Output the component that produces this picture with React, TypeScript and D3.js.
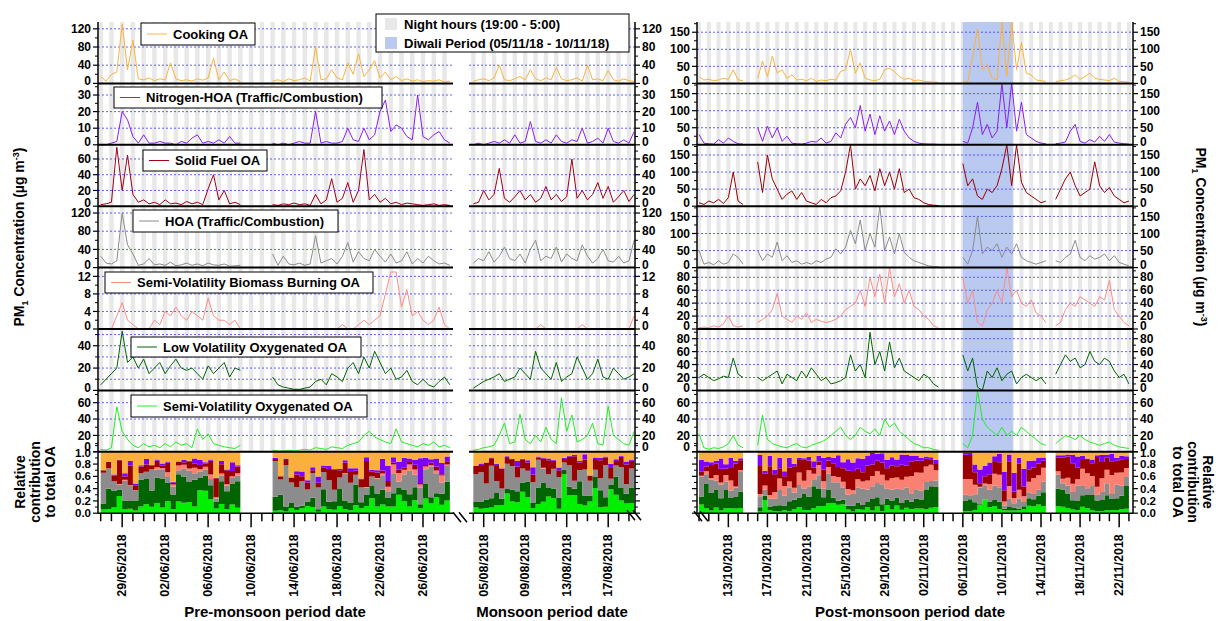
import * as d3 from 'd3';

type V = number | null;
const N = null;

// ---- data: 12-hourly values, starting 00:00 of first day ----
const PRE_START = new Date(2018, 4, 27, 0);
const MON_START = new Date(2018, 7, 4, 0);
const POST_START = new Date(2018, 9, 10, 0);
const G5 = [N, N, N, N, N];
const G4 = [N, N, N, N];

const coaPre: V[] = [15,5,20,25,130,30,95,10,8,12, 6,10,8,45,10,6,8,5,10,7, 12,55,8,25,6,10,4, ...G5, 5,8,4,10,6,8,12,5, 80,8,10,30,12,8,45,20,65,15, 30,50,12,25,8,15,6,10,5,8, 4,6,5,8,3,5];
const coaMon: V[] = [5,8,10,6,12,40,8,6,10,15,8,30,10,6,12,8,35,10,6,8,12,5,40,8,10,6,28,8,5,10,6,4];
const coaPost: V[] = [20,10,12,8,10,15,12,40,10,8, N,N, 15,65,20,80,30,40,15,25,10,12, 8,15,6,10,8,12,10,35,40,100, 30,60,15,10,8,12,40,45,35,20, 12,15,8,10,6,5,4,3, ...G4, 5,3,80,160,40,55,15,10,200,20, 200,40,120,30,25,10,8,6, N, 5,8,10,15,25,12,20,30,15,12,10,8,15,6,5,4];

const nhoaPre: V[] = [0,0,1,2,20,15,5,1,6,1, 1,2,1,1,0,2,1,4,6,1, 2,1,3,1,5,1,1, ...G5, 1,0,1,0,1,2,1,1, 20,1,2,1,1,2,10,3,2,10, 3,6,20,27,8,12,10,5,3,30, 5,3,6,8,3,1];
const nhoaMon: V[] = [0,1,0,1,2,1,3,1,6,1,2,14,2,1,3,1,6,2,1,3,2,10,1,2,4,1,10,2,1,3,1,8];
const nhoaPost: V[] = [30,5,3,2,15,5,20,10,3,2, N,N, 50,10,55,20,50,10,25,5,3,2, 5,10,8,20,5,10,35,20,60,80, 50,115,40,90,30,85,40,70,30,75, 40,20,10,5,3,2,2,1, ...G4, 10,5,50,125,30,60,20,40,180,50, 180,40,125,30,20,10,5,3, N, 3,5,8,40,60,10,5,15,8,25,10,30,8,5,3,2];

const sfoaPre: V[] = [2,3,5,75,20,65,15,5,8,3, 5,2,8,3,4,2,6,3,5,2, 22,40,8,20,3,5,2, ...G5, 2,1,3,2,4,2,3,1, 15,3,8,35,5,10,30,5,20,72, 8,15,5,10,3,5,2,4,3,2, 1,2,3,1,2,1];
const sfoaMon: V[] = [3,5,20,8,15,48,10,5,12,20,8,15,5,10,25,8,15,6,12,60,10,20,8,15,30,10,25,5,12,20,6,15];
const sfoaPost: V[] = [10,5,15,10,20,8,25,100,15,5, N,N, 130,40,150,80,50,20,35,45,20,40, 15,10,5,20,10,25,30,45,100,180, 50,80,60,90,45,110,60,100,50,110, 40,50,25,20,10,5,3,2, ...G4, 125,60,80,30,20,50,40,60,110,180, 60,180,70,40,30,20,10,15, N, 20,50,80,100,60,30,40,50,130,60,40,55,30,20,10,15];

const hoaPre: V[] = [25,10,8,15,120,50,30,5,8,20, 6,8,5,12,4,6,10,5,8,4, 10,6,5,8,3,4,5, ...G5, 30,5,25,8,6,10,5,8, 70,10,15,20,8,25,55,12,35,20, 15,40,25,12,30,10,15,35,8,20, 10,25,15,8,10,5];
const hoaMon: V[] = [10,20,15,35,12,25,45,20,15,30,10,40,60,15,25,20,45,12,30,20,15,50,25,10,20,40,15,12,25,10,15,60];
const hoaPost: V[] = [50,10,15,8,20,10,15,40,30,10, N,N, 50,20,40,30,75,20,35,15,20,10, 15,10,20,15,25,30,55,40,60,110, 70,140,50,100,60,180,50,90,40,100, 45,30,20,15,10,5,3,2, ...G4, 30,10,50,150,40,60,50,70,30,60, 40,70,30,20,15,10,15,20, N, 20,15,30,40,80,30,20,35,25,30,40,20,35,15,10,5];

const svbbPre: V[] = [0,0,0,3,6,2,1,0,0,0, 2,1,4,3,5,3,2,4,3,2, 7,3,2,2,1,2,0, ...G5, 0,0,0,0,0,0,0,0, 0,0,0,0,0,1,0,0,1,2, 1,2,3,8,13,13,5,9,3,4, 2,1,2,5,1,0];
const svbbMon: V[] = [0,0,0,0,0,0,0,0,0,0,0,0,0,1,0,0,0,0,0,0,0,1,0,0,0,0,0,0,0,0,0,3];
const svbbPost: V[] = [2,3,2,5,3,8,20,5,3,5, N,N, 10,15,20,30,55,20,15,10,20,15, 25,10,15,12,10,12,15,20,30,35, 40,60,35,80,50,85,40,95,50,70, 40,60,35,30,20,15,5,2, ...G4, 80,40,60,10,5,30,40,60,40,95, 50,60,40,35,45,25,20,10, N, 5,10,30,40,35,50,45,40,35,50,45,75,30,20,10,5];

const lvooaPre: V[] = [5,10,15,20,53,25,30,20,28,15, 20,25,15,22,28,20,18,20,15,10, 22,15,20,25,12,20,18, ...G5, 12,5,3,2,1,1,2,3, 8,10,5,15,12,8,20,25,15,30, 20,35,25,15,20,10,12,18,8,5, 10,5,3,8,12,5];
const lvooaMon: V[] = [2,5,8,10,12,15,8,10,12,20,15,10,35,20,15,10,25,8,12,15,30,20,10,15,28,12,10,20,15,10,12,15];
const lvooaPost: V[] = [20,25,20,15,18,22,20,50,25,20, N,N, 20,15,20,25,30,10,25,20,15,30, 20,35,25,15,20,10,12,15,20,55, 30,40,20,90,40,60,30,75,35,50, 30,25,20,15,25,20,10,5, ...G4, 55,30,50,5,0,30,20,35,15,25, 30,10,20,25,20,15,20,10, N, 25,40,55,45,50,35,40,60,45,40,50,45,30,20,25,10];

const svooaPre: V[] = [3,2,5,55,25,15,8,5,10,6, 8,5,10,6,12,8,10,5,28,15, 22,10,8,6,5,4,8, ...G5, 2,1,1,2,1,2,3,2, 5,4,3,6,5,4,8,10,12,20, 25,18,15,12,10,28,12,10,8,6, 10,8,12,6,8,5];
const svooaMon: V[] = [2,3,5,6,8,20,35,10,12,46,15,10,20,12,30,15,10,66,25,45,12,15,20,35,10,8,56,20,15,10,8,25];
const svooaPost: V[] = [22,5,3,5,4,6,10,20,8,5, N,N, 8,45,15,10,8,6,5,8,10,6, 5,8,10,12,15,20,25,30,20,15, 20,30,25,22,28,20,40,30,35,25, 20,15,10,8,5,5,3,2, ...G4, 10,5,20,75,40,30,25,20,30,20, 25,20,30,25,20,15,10,8, N, 10,15,20,18,15,20,15,12,10,8,10,12,8,6,5,4];

const factorNames = ['Cooking OA', 'Nitrogen-HOA (Traffic/Combustion)', 'Solid Fuel OA', 'HOA (Traffic/Combustion)', 'Semi-Volatility Biomass Burning OA', 'Low Volatility Oxygenated OA', 'Semi-Volatility Oxygenated OA'];
const preSeries = [coaPre, nhoaPre, sfoaPre, hoaPre, svbbPre, lvooaPre, svooaPre];
const monSeries = [coaMon, nhoaMon, sfoaMon, hoaMon, svbbMon, lvooaMon, svooaMon];
const postSeries = [coaPost, nhoaPost, sfoaPost, hoaPost, svbbPost, lvooaPost, svooaPost];

const leftMax = [135, 37, 78, 135, 14, 55, 75];
const leftTicks = [[0, 40, 80, 120], [0, 10, 20, 30], [0, 20, 40, 60], [0, 40, 80, 120], [0, 4, 8, 12], [0, 20, 40], [0, 20, 40, 60]];
const leftGrid = [[40, 80, 120], [10, 20, 30], [20, 40, 60], [40, 80, 120], [4, 8, 12], [10, 20, 30, 40, 50], [20, 40, 60]];
const rightMax = [180, 180, 180, 180, 95, 95, 75];
const rightTicks = [[0, 50, 100, 150], [0, 50, 100, 150], [0, 50, 100, 150], [0, 50, 100, 150], [0, 20, 40, 60, 80], [0, 20, 40, 60, 80], [0, 20, 40, 60]];
const relTicks = [0, 0.2, 0.4, 0.6, 0.8, 1.0];

const lineColors = ['#fbb43c', '#8a1ef0', '#a00018', '#8c8c8c', '#ff8a8a', '#006400', '#22ee22'];
const postLineColors = ['#fbb43c', '#8a1ef0', '#990000', '#8c8c8c', '#ff8a8a', '#006400', '#22ee22'];
const fillColors = ['#fbb03b', '#8000ff', '#990000', '#8c8c8c', '#fa8072', '#006400', '#00f000'];
const legendBoxes = [[141, 23, 114, 22], [114, 87, 268, 21], [143, 150, 124, 21], [133, 210, 205, 22], [105, 272, 268, 21], [131, 337, 230, 20], [131, 395, 236, 22]];

const labelDatesPre = ['29/05/2018', '02/06/2018', '06/06/2018', '10/06/2018', '14/06/2018', '18/06/2018', '22/06/2018', '26/06/2018'];
const labelDatesMon = ['05/08/2018', '09/08/2018', '13/08/2018', '17/08/2018'];
const labelDatesPost = ['13/10/2018', '17/10/2018', '21/10/2018', '25/10/2018', '29/10/2018', '02/11/2018', '06/11/2018', '10/11/2018', '14/11/2018', '18/11/2018', '22/11/2018'];

// ---- layout ----
const TOP = 22;
const PH = 61.4;
const BOTTOM = TOP + PH * 8;
const FONT = 'Liberation Sans, Arial, sans-serif';
const BLUE_GRID = '#3a3aff';

const parseDMY = (s: string) => { const [d, m, y] = s.split('/').map(Number); return new Date(y, m - 1, d); };

interface Seg { start: Date; series: V[][]; domain: [Date, Date]; range: [number, number]; labels: string[]; left: boolean; }
const segs: Seg[] = [
  { start: PRE_START, series: preSeries, domain: [new Date(2018, 4, 26, 18), new Date(2018, 5, 28, 19)], range: [98, 453], labels: labelDatesPre, left: true },
  { start: MON_START, series: monSeries, domain: [new Date(2018, 7, 3, 14), new Date(2018, 7, 19, 14)], range: [469, 635], labels: labelDatesMon, left: true },
  { start: POST_START, series: postSeries, domain: [new Date(2018, 9, 9, 19), new Date(2018, 10, 23, 10)], range: [697, 1133], labels: labelDatesPost, left: false },
];

const tAt = (start: Date, i: number) => new Date(start.getTime() + i * 12 * 3600 * 1000);

function Segment({ seg }: { seg: Seg }) {
  const x = d3.scaleTime().domain(seg.domain).range(seg.range);
  const [x0, x1] = seg.range;
  const days = d3.timeDay.range(d3.timeDay.floor(seg.domain[0]), seg.domain[1]);
  const nights = days.map(d => {
    const a = Math.max(x0, x(d3.timeHour.offset(d, 19)));
    const b = Math.min(x1, x(d3.timeHour.offset(d, 29)));
    return [a, b];
  }).filter(([a, b]) => b > a);
  const nSamples = seg.series[0].length;
  // relative contribution stack (bottom SVOOA ... top COA)
  const order = [6, 5, 3, 4, 2, 1, 0];
  const rows = d3.range(nSamples).map(i => {
    const vals = seg.series.map(s => s[i]);
    if (vals.some(v => v == null)) return null;
    const tot = d3.sum(vals as number[]) || 1;
    return vals.map(v => (v as number) / tot);
  });
  const yRel = d3.scaleLinear().domain([0, 1]).range([BOTTOM, BOTTOM - PH]);
  const cum: { lo: number; hi: number }[][] = order.map(() => []);
  rows.forEach((r, i) => {
    let acc = 0;
    order.forEach((k, j) => {
      if (r == null) { cum[j][i] = { lo: NaN, hi: NaN }; return; }
      cum[j][i] = { lo: acc, hi: acc + r[k] }; acc += r[k];
    });
  });
  const area = d3.area<{ lo: number; hi: number }>()
    .defined(d => !isNaN(d.lo))
    .x((_, i) => x(tAt(seg.start, i)))
    .y0(d => yRel(d.lo)).y1(d => yRel(d.hi)).curve(d3.curveStepAfter);
  const diwali = !seg.left ? [x(new Date(2018, 10, 6, 0)), x(new Date(2018, 10, 11, 3))] : null;

  return (
    <g>
      {nights.map(([a, b], i) => <rect key={i} x={a} y={TOP} width={b - a} height={PH * 7} fill="#e8e8e8" />)}
      {diwali && <rect x={diwali[0]} y={TOP} width={diwali[1] - diwali[0]} height={PH * 7} fill="#b9c9f0" />}
      {seg.series.map((s, k) => {
        const top = TOP + PH * k;
        const max = seg.left ? leftMax[k] : rightMax[k];
        const y = d3.scaleLinear().domain([0, max]).range([top + PH, top]).clamp(true);
        const grid = seg.left ? leftGrid[k] : rightTicks[k].filter(t => t > 0);
        const line = d3.line<V>().defined(d => d != null).x((_, i) => x(tAt(seg.start, i))).y(d => y(d as number));
        return (
          <g key={k}>
            {grid.map(g => <line key={g} x1={x0} x2={x1} y1={y(g)} y2={y(g)} stroke={BLUE_GRID} strokeWidth={0.8} strokeDasharray="2,2" />)}
            <path d={line(s) ?? ''} fill="none" stroke={(seg.left ? lineColors : postLineColors)[k]} strokeWidth={1} />
          </g>
        );
      })}
      {order.map((k, j) => <path key={k} d={area(cum[j]) ?? ''} fill={fillColors[k]} />)}
      {d3.range(1, 8).map(k => <line key={k} x1={x0} x2={x1} y1={TOP + PH * k} y2={TOP + PH * k} stroke="#000" strokeWidth={2} />)}
      <line x1={x0} x2={x1} y1={BOTTOM} y2={BOTTOM} stroke="#000" strokeWidth={1.5} />
      {/* day ticks */}
      {d3.timeDay.range(d3.timeDay.ceil(seg.domain[0]), seg.domain[1]).map((d, i) => {
        const lab = seg.labels.some(l => +parseDMY(l) === +d);
        return <line key={i} x1={x(d)} x2={x(d)} y1={BOTTOM} y2={BOTTOM + (lab ? 14 : 8)} stroke="#000" strokeWidth={1.5} />;
      })}
      {seg.labels.map(l => (
        <text key={l} transform={`translate(${x(parseDMY(l)) + 4},${BOTTOM + 21}) rotate(-90)`} textAnchor="end" fontSize={12.5} fontWeight="bold" fontFamily={FONT}>{l}</text>
      ))}
    </g>
  );
}

function YAxis({ xPos, side, labels, panels }: { xPos: number; side: 'l' | 'r'; labels: boolean; panels: 'left' | 'right' }) {
  const dir = side === 'l' ? -1 : 1;
  return (
    <g fontFamily={FONT} fontSize={12} fontWeight="bold">
      <line x1={xPos} x2={xPos} y1={TOP} y2={BOTTOM} stroke="#000" strokeWidth={1.5} />
      {d3.range(7).map(k => {
        const top = TOP + PH * k;
        const max = panels === 'left' ? leftMax[k] : rightMax[k];
        const ticks = panels === 'left' ? leftTicks[k] : rightTicks[k];
        const y = d3.scaleLinear().domain([0, max]).range([top + PH, top]);
        const step = ticks[1] - ticks[0];
        const minors = d3.range(step / 2, max, step);
        return (
          <g key={k}>
            {ticks.map(t => <line key={t} x1={xPos} x2={xPos + dir * 5} y1={y(t)} y2={y(t)} stroke="#000" strokeWidth={1.2} />)}
            {minors.map(t => <line key={'m' + t} x1={xPos} x2={xPos + dir * 3} y1={y(t)} y2={y(t)} stroke="#000" strokeWidth={1} />)}
            {labels && ticks.map(t => (
              <text key={'t' + t} x={xPos + dir * 7} y={y(t) - (t === 0 ? (k === 6 ? 5 : 3) : 0)} dy="0.35em" textAnchor={side === 'l' ? 'end' : 'start'}>{t}</text>
            ))}
          </g>
        );
      })}
    </g>
  );
}

function RelAxis({ xPos, side, labels }: { xPos: number; side: 'l' | 'r'; labels: boolean }) {
  const dir = side === 'l' ? -1 : 1;
  const y = d3.scaleLinear().domain([0, 1]).range([BOTTOM, BOTTOM - PH]);
  return (
    <g fontFamily={FONT} fontSize={11.5} fontWeight="bold">
      {relTicks.map(t => (
        <g key={t}>
          <line x1={xPos} x2={xPos + dir * 5} y1={y(t)} y2={y(t)} stroke="#000" strokeWidth={1.2} />
          <line x1={xPos} x2={xPos + dir * 3} y1={y(t + 0.1)} y2={y(t + 0.1)} stroke="#000" strokeWidth={1} />
          {labels && <text x={xPos + dir * 7} y={y(t) + (t === 1 ? 1 : 0)} dy="0.35em" textAnchor={side === 'l' ? 'end' : 'start'}>{t.toFixed(1)}</text>}
        </g>
      ))}
    </g>
  );
}

function Break({ x0, y0 }: { x0: number; y0: number }) {
  return (
    <g stroke="#000" strokeWidth={1.5}>
      <line x1={x0 - 4} x2={x0 + 4} y1={y0 - 5} y2={y0 + 5} />
      <line x1={x0 + 2} x2={x0 + 10} y1={y0 - 5} y2={y0 + 5} />
    </g>
  );
}

export default function App() {
  return (
    <svg width={1218} height={621} style={{ position: 'absolute', left: 0, top: 0, background: '#fff' }}>
      {segs.map((s, i) => <Segment key={i} seg={s} />)}
      <YAxis xPos={98} side="l" labels panels="left" />
      <YAxis xPos={635} side="r" labels panels="left" />
      <YAxis xPos={697} side="l" labels panels="right" />
      <YAxis xPos={1133} side="r" labels panels="right" />
      <RelAxis xPos={98} side="l" labels />
      <RelAxis xPos={635} side="r" labels={false} />
      <RelAxis xPos={697} side="l" labels={false} />
      <RelAxis xPos={1133} side="r" labels />
      <Break x0={457} y0={BOTTOM + 4} />
      <Break x0={631} y0={BOTTOM + 2} />
      <Break x0={698} y0={BOTTOM + 3} />
      {/* legend boxes */}
      {legendBoxes.map(([bx, by, bw, bh], k) => (
        <g key={k}>
          <rect x={bx} y={by} width={bw} height={bh} fill="#fff" stroke="#000" strokeWidth={1} />
          <line x1={bx + 6} x2={bx + 26} y1={by + bh / 2} y2={by + bh / 2} stroke={lineColors[k]} strokeWidth={1} />
          <text x={bx + 32} y={by + bh / 2} dy="0.35em" fontFamily={FONT} fontSize={13} fontWeight="bold">{factorNames[k]}</text>
        </g>
      ))}
      <g fontFamily={FONT} fontSize={13} fontWeight="bold">
        <rect x={376} y={14} width={253} height={38} fill="#fff" stroke="#000" strokeWidth={1} />
        <rect x={385} y={18} width={12} height={12} fill="#e8e8e8" />
        <text x={404} y={24} dy="0.35em">Night hours (19:00 - 5:00)</text>
        <rect x={385} y={37} width={12} height={12} fill="#b9c9f0" />
        <text x={404} y={43} dy="0.35em">Diwali Period (05/11/18 - 10/11/18)</text>
      </g>
      <g fontFamily={FONT} fontWeight="bold">
        <text transform="translate(24,237) rotate(-90)" textAnchor="middle" fontSize={14}>
          PM<tspan fontSize={9} dy="4">1</tspan><tspan dy="-4"> Concentration (µg m</tspan><tspan fontSize={9} dy="-5">-3</tspan><tspan dy="5">)</tspan>
        </text>
        <text transform="translate(1196,237) rotate(90)" textAnchor="middle" fontSize={14}>
          PM<tspan fontSize={9} dy="4">1</tspan><tspan dy="-4"> Concentration (µg m</tspan><tspan fontSize={9} dy="-5">-3</tspan><tspan dy="5">)</tspan>
        </text>
        {['Relative', 'contribution', 'to total OA'].map((t, i) => (
          <text key={i} transform={`translate(${25 + i * 15},482) rotate(-90)`} textAnchor="middle" fontSize={14}>{t}</text>
        ))}
        {['Relative', 'contribution', 'to total OA'].map((t, i) => (
          <text key={'r' + i} transform={`translate(${1203 - i * 15},482) rotate(90)`} textAnchor="middle" fontSize={14}>{t}</text>
        ))}
        <text x={275} y={617} textAnchor="middle" fontSize={15}>Pre-monsoon period date</text>
        <text x={552} y={617} textAnchor="middle" fontSize={15}>Monsoon period date</text>
        <text x={910} y={617} textAnchor="middle" fontSize={15}>Post-monsoon period date</text>
      </g>
    </svg>
  );
}
